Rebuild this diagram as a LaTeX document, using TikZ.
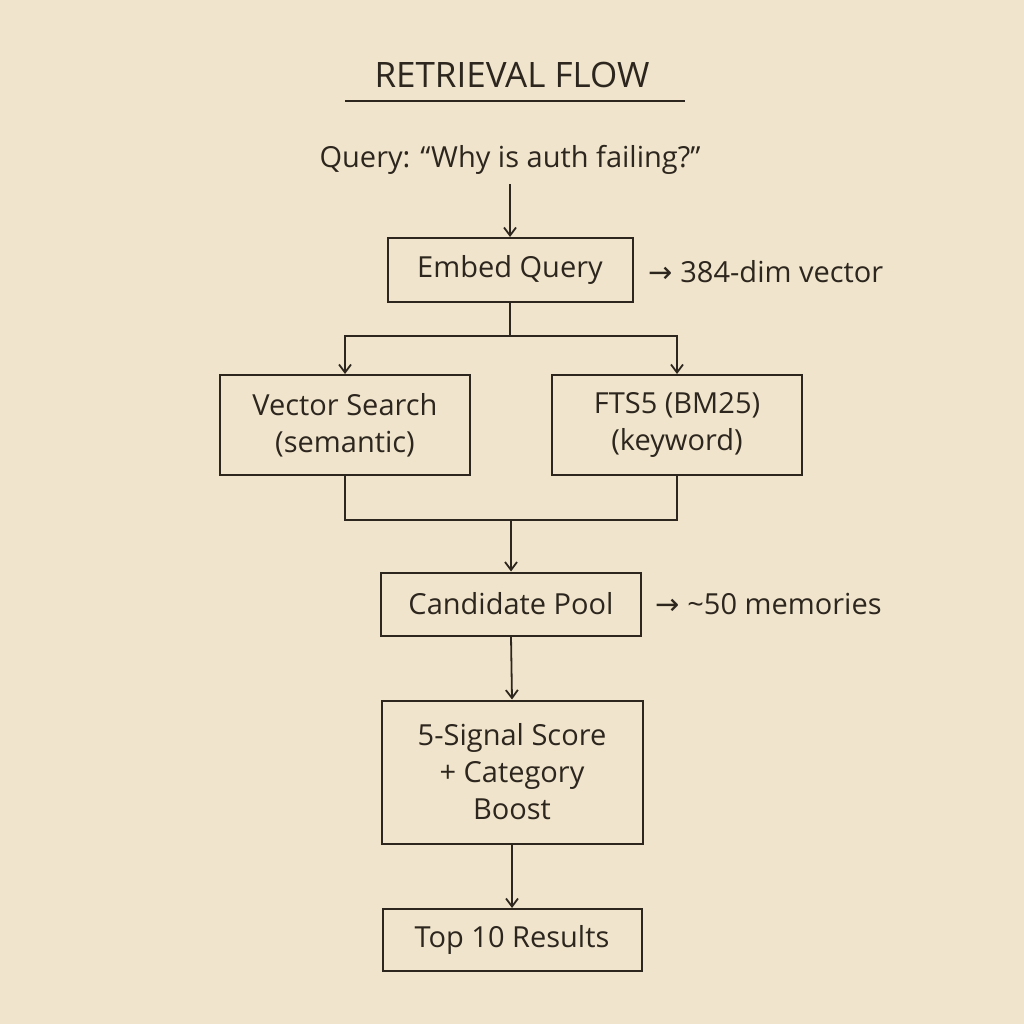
\documentclass[tikz,border=0pt]{standalone}
\usepackage{fontspec}
\setmainfont{Open Sans}
\newfontfamily\symf{DejaVu Sans}
\usetikzlibrary{arrows.meta}
\definecolor{paper}{RGB}{240,229,204}
\definecolor{ink}{RGB}{45,38,30}
\begin{document}
\begin{tikzpicture}[x=1pt,y=-1pt,
  box/.style={draw=ink,line width=2pt,minimum height=#1,align=center,text=ink,font=\fontsize{29}{37}\selectfont,inner sep=0pt},
  lbl/.style={text=ink,font=\fontsize{29}{34}\selectfont},
  ar/.style={draw=ink,line width=1.8pt,-{Straight Barb[length=8pt,width=12pt]}},
  ln/.style={draw=ink,line width=1.8pt}]
\fill[paper] (0,0) rectangle (1024,1024);
\useasboundingbox (0,0) rectangle (1024,1024);
\node[lbl,font=\fontsize{35}{40}\selectfont] (title) at (512,75) {RETRIEVAL FLOW};
\draw[ln] (345,101) -- (685,101);
\node[lbl] (q) at (510,160) {Query: “Why is auth failing?”};
\node[box=64pt,minimum width=245pt] (embed) at (510,270) {Embed Query};
\node[lbl,anchor=west] (dim) at (645,272) {{\symf →} 384-dim vector};
\node[box=100pt,minimum width=250pt] (vec) at (345,425) {Vector Search\\(semantic)};
\node[box=100pt,minimum width=250pt] (fts) at (677,425) {FTS5 (BM25)\\(keyword)};
\node[box=63pt,minimum width=260pt] (cand) at (511,604) {Candidate Pool};
\node[lbl,anchor=west] (mem) at (652,604) {{\symf →} \textasciitilde 50 memories};
\node[box=143pt,minimum width=261pt] (score) at (512,772) {5-Signal Score\\+ Category\\Boost};
\node[box=62pt,minimum width=259pt] (top) at (512,940) {Top 10 Results};
\draw[ar] (q.south) ++(0,6) -- (embed.north);
\coordinate (s1) at (510,336);
\draw[ln] (embed.south) -- (s1);
\draw[ar] (s1) -| (vec.north);
\draw[ar] (s1) -| (fts.north);
\coordinate (j) at (511,520);
\draw[ln] (vec.south) |- (j);
\draw[ln] (fts.south) |- (j);
\draw[ar] (j) -- (cand.north);
\draw[ar] (cand.south) -- (score.north);
\draw[ar] (score.south) -- (top.north);
\end{tikzpicture}
\end{document}
